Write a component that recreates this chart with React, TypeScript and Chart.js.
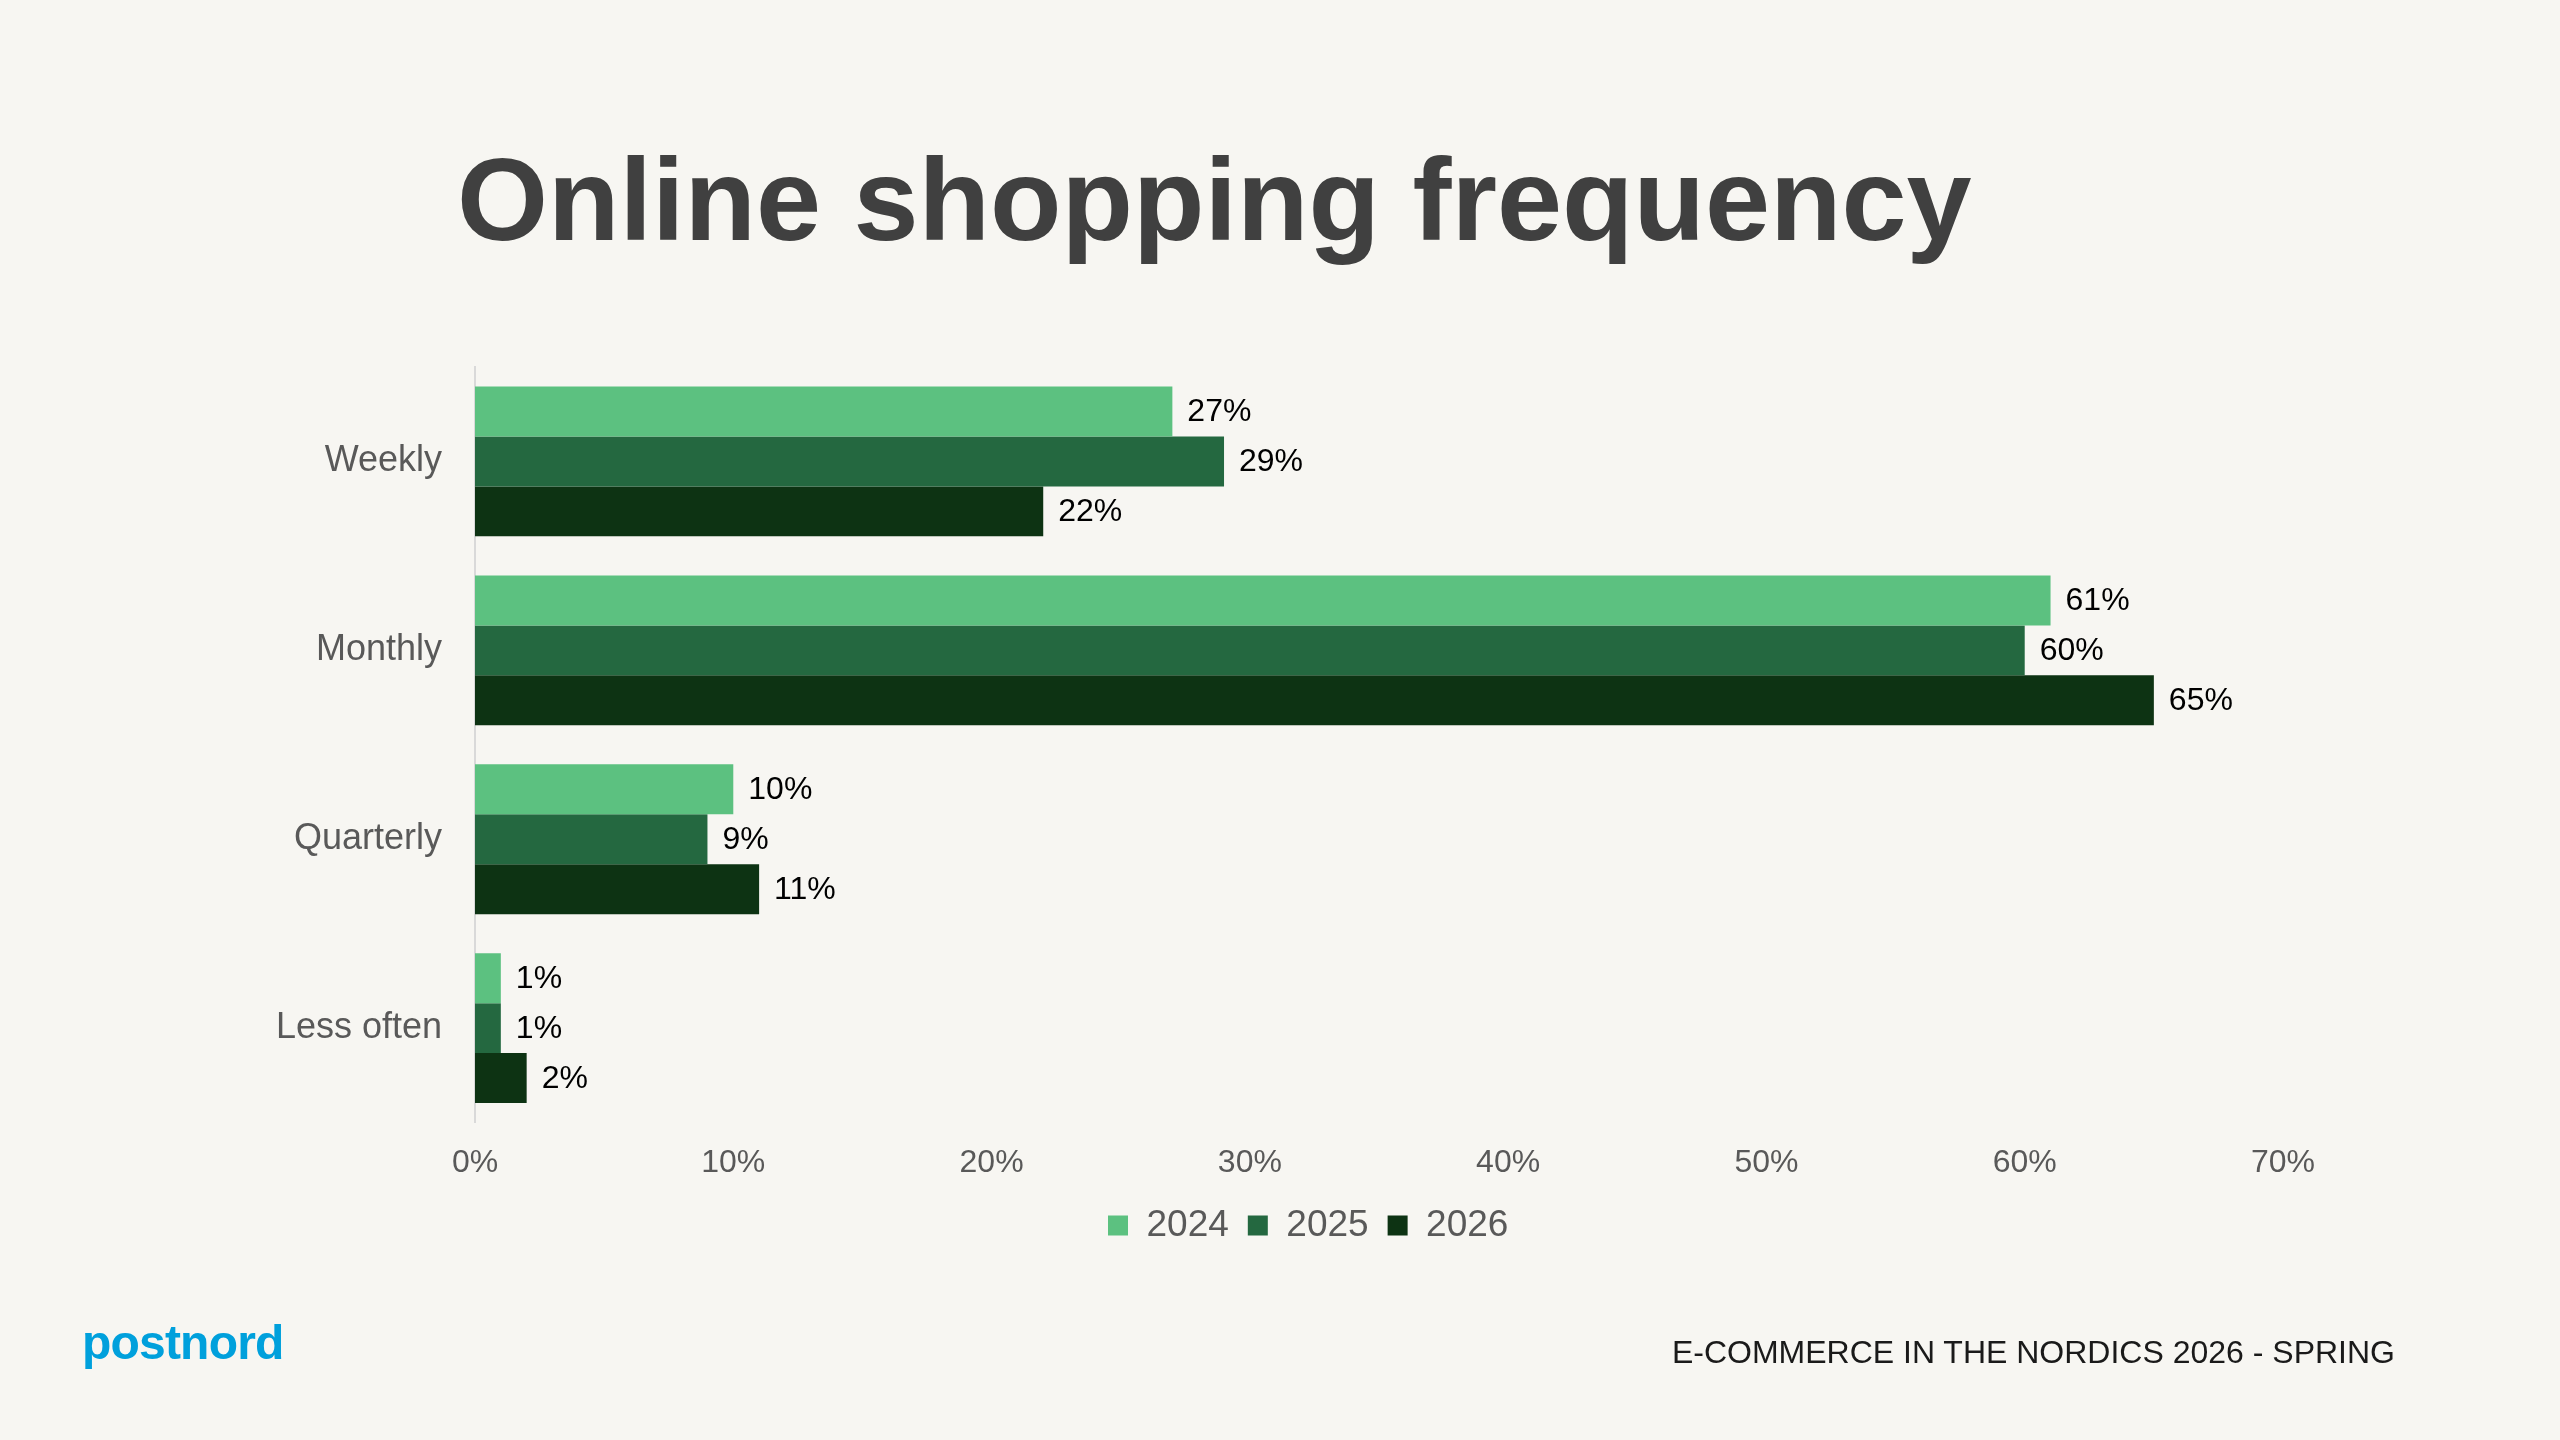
import React, { useEffect, useRef } from "react";
import { Chart, registerables } from "chart.js";

Chart.register(...registerables);

const categories = ["Weekly", "Monthly", "Quarterly", "Less often"];
const seriesNames = ["2024", "2025", "2026"];
const values2024 = [27, 61, 10, 1];
const values2025 = [29, 60, 9, 1];
const values2026 = [22, 65, 11, 2];
const seriesColors = ["#5cc180", "#246840", "#0d3313"];
const xTickMax = 70;
const xTickStep = 10;

const FONT = "'Liberation Sans', Arial, Helvetica, sans-serif";
const LEGEND_PAD = 19;

const valueLabels = {
  id: "valueLabels",
  afterDatasetsDraw(chart: any) {
    const ctx = chart.ctx;
    ctx.save();
    ctx.font = `32px ${FONT}`;
    ctx.fillStyle = "#000000";
    ctx.textAlign = "left";
    ctx.textBaseline = "middle";
    chart.data.datasets.forEach((ds: any, i: number) => {
      const meta = chart.getDatasetMeta(i);
      meta.data.forEach((bar: any, j: number) => {
        ctx.fillText(ds.data[j] + "%", bar.x + 15, bar.y + 1);
      });
    });
    ctx.restore();
  },
};

// place the legend row where the slide has it (centred under the slide)
const legendPlacement = {
  id: "legendPlacement",
  afterLayout(chart: any) {
    const lg = chart.legend;
    if (!lg || !lg.lineWidths) return;
    const cursorX = (lg.left + LEGEND_PAD + lg.right - lg.lineWidths[0]) / 2;
    const dx = 1108 - cursorX;
    lg.left += dx;
    lg.right += dx;
    const dy = -7;
    lg.top += dy;
    lg.bottom += dy;
  },
};

export default function App() {
  const canvasRef = useRef<HTMLCanvasElement | null>(null);

  useEffect(() => {
    if (!canvasRef.current) return;
    const all = [values2024, values2025, values2026];
    const chart = new Chart(canvasRef.current, {
      type: "bar",
      data: {
        labels: categories,
        datasets: seriesNames.map((name, i) => ({
          label: name,
          data: all[i],
          backgroundColor: seriesColors[i],
          borderWidth: 0,
          barPercentage: 1,
          categoryPercentage: 0.793,
        })),
      },
      options: {
        indexAxis: "y",
        animation: false,
        responsive: true,
        maintainAspectRatio: false,
        layout: { padding: { left: 0, right: 277, top: 367, bottom: 179 } },
        plugins: {
          legend: {
            position: "bottom",
            labels: {
              font: { family: FONT, size: 37 },
              color: "#595959",
              boxWidth: 20,
              boxHeight: 20,
              padding: LEGEND_PAD,
            },
          },
          tooltip: { enabled: false },
        },
        scales: {
          x: {
            min: 0,
            max: xTickMax,
            grid: { display: false },
            border: { display: false },
            ticks: {
              stepSize: xTickStep,
              padding: 13,
              color: "#595959",
              font: { family: FONT, size: 32 },
              callback: (v: any) => v + "%",
            },
          },
          y: {
            grid: { display: false },
            border: { display: true, color: "#d9d9d9", width: 2 },
            afterFit: (scale: any) => {
              scale.width = 475;
            },
            ticks: {
              padding: 25,
              color: "#595959",
              font: { family: FONT, size: 36 },
            },
          },
        },
      },
      plugins: [valueLabels, legendPlacement],
    });
    return () => chart.destroy();
  }, []);

  return (
    <div
      style={{
        position: "fixed",
        left: 0,
        top: 0,
        width: 2560,
        height: 1440,
        background: "#f7f6f2",
        overflow: "hidden",
        fontFamily: FONT,
      }}
    >
      <div style={{ position: "absolute", left: 0, top: 0, width: 2560, height: 1440 }}>
        <canvas ref={canvasRef} />
      </div>
      <div
        style={{
          position: "absolute",
          left: 457,
          top: 141,
          fontSize: 117,
          lineHeight: 1,
          fontWeight: 700,
          color: "#404040",
          whiteSpace: "nowrap",
        }}
      >
        Online shopping frequency
      </div>
      <div
        style={{
          position: "absolute",
          left: 82,
          top: 1319,
          fontSize: 48,
          lineHeight: 1,
          fontWeight: 700,
          color: "#00a0dc",
          letterSpacing: -0.8,
          whiteSpace: "nowrap",
        }}
      >
        postnord
      </div>
      <div
        style={{
          position: "absolute",
          right: 165,
          top: 1336,
          fontSize: 32,
          lineHeight: 1,
          color: "#1a1a1a",
          whiteSpace: "nowrap",
        }}
      >
        E-COMMERCE IN THE NORDICS 2026 - SPRING
      </div>
    </div>
  );
}
